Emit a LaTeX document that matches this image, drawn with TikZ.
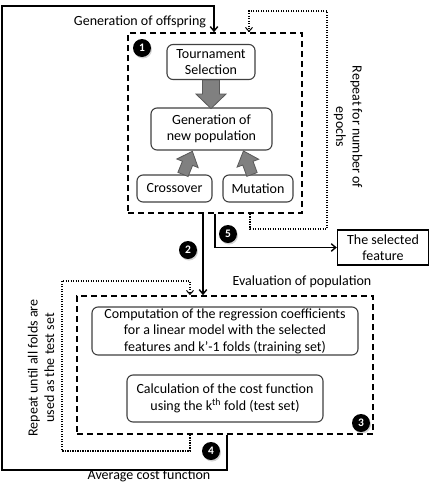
\documentclass[tikz,border=0pt]{standalone}
\usepackage{fontspec}
\setmainfont{Carlito}
\usetikzlibrary{arrows.meta,calc,shadows}
\begin{document}
\begin{tikzpicture}[x=1pt,y=-1pt,
  every node/.style={font=\fontsize{14}{16.5}\selectfont},
  rbox/.style={draw=black!75, line width=1.1pt, rounded corners=6pt, fill=white, align=center, inner sep=0pt},
  sbox/.style={draw=black, line width=1.4pt, fill=white, align=center, inner sep=0pt},
  dbox/.style={draw=black, line width=1.7pt, dash pattern=on 6pt off 4pt, inner sep=0pt},
  num/.style={circle, fill=black, text=white, font=\fontsize{11.5}{11.5}\selectfont\bfseries, minimum size=18pt, inner sep=0pt, drop shadow={opacity=0.35, shadow xshift=1pt, shadow yshift=-1.5pt}},
  conn/.style={line width=1.4pt, -{Straight Barb[length=4.5pt,width=7.5pt]}},
  dotc/.style={line width=1.3pt, dash pattern=on 1.3pt off 1.2pt, -{Straight Barb[length=4pt,width=7pt,line width=1pt]}},
  blk/.style={fill=black!50, draw=black!65, line width=0.8pt, line join=miter}
]
\useasboundingbox (0,0) rectangle (431,483);

% dashed frames
\node[dbox, minimum width=174, minimum height=180] (b1) at (215,123) {};
\node[dbox, minimum width=296, minimum height=138] (b2) at (225,365) {};

% inner boxes of frame 1
\node[rbox, minimum width=88, minimum height=35] (ts) at (211,62) {Tournament\\Selection};
\node[rbox, minimum width=121, minimum height=42] (gen) at (211.5,129) {Generation of\\new population};
\node[rbox, minimum width=75, minimum height=27] (cr) at (174.5,188.5) {Crossover};
\node[rbox, minimum width=70, minimum height=27] (mu) at (258,188.5) {Mutation};

% inner boxes of frame 2
\node[rbox, minimum width=266, minimum height=48] (comp) at (225,331) {Computation of the regression coefficients\\for a linear model with the selected\\features and k’-1 folds (training set)};
\node[rbox, minimum width=196, minimum height=47] (calc) at (225,398.5) {Calculation of the cost function\\using the k\textsuperscript{th} fold (test set)};

% selected feature
\node[sbox, minimum width=91, minimum height=35] (sel) at (383,247.5) {The selected\\feature};

% block arrows
\begin{scope}[shift={(ts.south)}]
  \draw[blk] (-8.5,0) -- (8.5,0) -- (8.5,14) -- (15,14) -- (0,28.5) -- (-15,14) -- (-8.5,14) -- cycle;
\end{scope}
\begin{scope}[shift={($(cr.north)+(8.5,0)$)}, rotate=-22]
  \draw[blk] (-5.5,0) -- (5.5,0) -- (5.5,-12) -- (11.5,-12) -- (0,-25) -- (-11.5,-12) -- (-5.5,-12) -- cycle;
\end{scope}
\begin{scope}[shift={($(mu.north)+(-6,0)$)}, rotate=20]
  \draw[blk] (-5.5,0) -- (5.5,0) -- (5.5,-12) -- (11.5,-12) -- (0,-25) -- (-11.5,-12) -- (-5.5,-12) -- cycle;
\end{scope}

% connectors
\coordinate (l2) at ($(b1.south)+(-12,0)$);
\draw[conn] (l2) -- (l2 |- b2.north);
\draw[conn] (b1.south) |- (sel.west);
\coordinate (outa) at ($(b2.south)+(2,0)$);
\coordinate (outb) at ($(b1.north)+(-1,0)$);
\coordinate (outl) at (2,6);
\draw[conn] (outa) -- ++(0,35) -| (outl) -| (outb);

% dotted loops
\coordinate (epa) at ($(b1.south)+(35,0)$);
\coordinate (epr) at (327,11);
\coordinate (epb) at ($(b1.north)+(34,0)$);
\draw[dotc] (epa) -- ++(0,15) -| (epr) -| (epb);
\coordinate (foa) at ($(b2.south)+(-35,0)$);
\coordinate (fol) at (62,281);
\coordinate (fob) at ($(b2.north)+(-35,0)$);
\draw[dotc] (foa) -- ++(0,16) -| (fol) -| (fob);

% numbers
\node[num] (n1) at (142,48) {1};
\node[num] (n2) at (188,250) {2};
\node[num] (n3) at (361,423) {3};
\node[num] (n4) at (211,451) {4};
\node[num] (n5) at (228,234) {5};

% labels
\node (goff) at (140,22) {Generation of offspring};
\node (evp) at (302,282) {Evaluation of population};
\node[anchor=base] (avg) at (149,479.5) {Average cost function};
\node[rotate=-90, align=center] (rep1) at (348,127) {Repeat for number of\\epochs};
\node[rotate=90, align=center] (rep2) at (41,368) {Repeat until all folds are\\used as the test set};
\end{tikzpicture}
\end{document}
